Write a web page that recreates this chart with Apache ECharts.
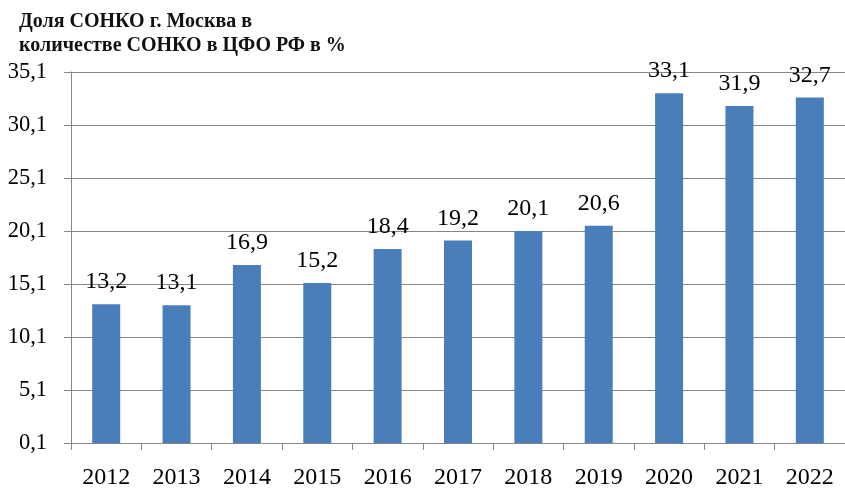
<!DOCTYPE html>
<html><head><meta charset="utf-8">
<script src="https://cdn.jsdelivr.net/npm/echarts@6/dist/echarts.min.js"></script>
<style>html,body{margin:0;padding:0;background:#fff}#c{width:845px;height:490px}</style>
</head><body><div id="c"></div>
<script>
const categories = ['2012','2013','2014','2015','2016','2017','2018','2019','2020','2021','2022'];
const shareValues = [13.2, 13.1, 16.9, 15.2, 18.4, 19.2, 20.1, 20.6, 33.1, 31.9, 32.7];
const titleLines = ['Доля СОНКО г. Москва в', 'количестве СОНКО в ЦФО РФ в %'];
const yMin = 0.1, yMax = 35.1, yStep = 5;

const fmt = v => Number(v).toFixed(1).replace('.', ',');
const font = '"Liberation Serif", "Times New Roman", serif';

const chart = echarts.init(document.getElementById('c'));
chart.setOption({
  animation: false,
  backgroundColor: '#fff',
  title: {
    text: titleLines.join('\n'),
    left: 14, top: 5,
    textStyle: { fontFamily: font, fontSize: 20, fontWeight: 'bold', color: '#111', lineHeight: 24 }
  },
  grid: { left: 71, top: 72, bottom: 45, right: -8, containLabel: false },
  xAxis: {
    type: 'category',
    data: categories,
    axisLine: { lineStyle: { color: '#868686', width: 1 } },
    axisTick: { show: true, alignWithLabel: false, length: 7, lineStyle: { color: '#868686' } },
    axisLabel: { fontFamily: font, fontSize: 24, color: '#000', margin: 23 }
  },
  yAxis: {
    type: 'value',
    min: yMin, max: yMax, interval: yStep,
    axisLine: { show: true, lineStyle: { color: '#868686', width: 1 } },
    axisTick: { show: true, length: 7, lineStyle: { color: '#868686' } },
    splitLine: { show: true, lineStyle: { color: '#868686', width: 1 } },
    axisLabel: { fontFamily: font, fontSize: 22.5, color: '#000', margin: 24, formatter: fmt }
  },
  series: [{
    type: 'bar',
    data: shareValues,
    barWidth: 28,
    itemStyle: { color: '#4A7EBB' },
    label: {
      show: true, position: 'top', distance: 10,
      fontFamily: font, fontSize: 24, color: '#000',
      formatter: p => fmt(p.value)
    }
  }]
});
</script></body></html>
